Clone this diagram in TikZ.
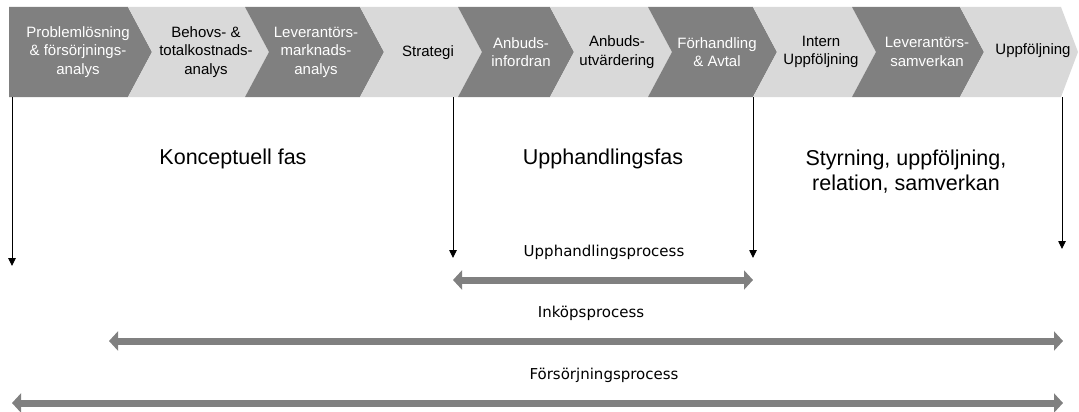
\documentclass[tikz,border=0pt]{standalone}
\usepackage{fontspec}
\setmainfont{Liberation Sans}
\newfontfamily\labelfont{DejaVu Sans}
\usetikzlibrary{arrows.meta}
\definecolor{chevdark}{HTML}{808080}
\definecolor{chevlight}{HTML}{D9D9D9}
\definecolor{barcol}{HTML}{808080}
\begin{document}
\begin{tikzpicture}[x=1pt,y=-1pt,
  stagetext/.style={align=center,inner sep=0pt,font=\fontsize{15}{18.5}\selectfont},
  ondark/.style={stagetext,text=white},
  onlight/.style={stagetext,text=black},
  phasetext/.style={align=center,inner sep=0pt,font=\fontsize{21.5}{25}\selectfont},
  proctext/.style={inner sep=0pt,font=\labelfont\fontsize{15}{17}\selectfont},
  marker/.style={draw=black,line width=0.9pt,-{Triangle[length=8pt,width=7.5pt]}},
  procbar/.style={draw=barcol,line width=7pt,
    {Triangle[length=9pt,width=19pt]}-{Triangle[length=9pt,width=19pt]}}]
\useasboundingbox (0,0) rectangle (1079,412);

% chevron band: top, middle and bottom heights, notch depth
\def\ytop{7}\def\ymid{52}\def\ybot{97}\def\dep{24}

% first stage: straight left edge
\fill[chevdark] (9,\ytop) -- (128,\ytop) -- (128+\dep,\ymid) -- (128,\ybot) -- (9,\ybot) -- cycle;
% remaining stages
\foreach \a/\b/\c in {128/245/chevlight,245/360/chevdark,360/458/chevlight,
  458/550/chevdark,550/648/chevlight,648/753/chevdark,753/852/chevlight,
  852/960/chevdark}{
  \fill[\c] (\a,\ytop) -- (\b,\ytop) -- (\b+\dep,\ymid) -- (\b,\ybot)
    -- (\a,\ybot) -- (\a+\dep,\ymid) -- cycle;
}
\fill[chevlight] (960,\ytop) -- (1061,\ytop) -- (1078,\ymid) -- (1061,\ybot)
  -- (960,\ybot) -- (960+\dep,\ymid) -- cycle;

% stage labels
\node[ondark]  (s1)  at (78,52)   {Problemlösning\\\& försörjnings-\\analys};
\node[onlight] (s2)  at (206,52)  {Behovs- \&\\totalkostnads-\\analys};
\node[ondark]  (s3)  at (316,52)  {Leverantörs-\\marknads-\\analys};
\node[onlight] (s4)  at (428,53)  {Strategi};
\node[ondark]  (s5)  at (521,52)  {Anbuds-\\infordran};
\node[onlight] (s6)  at (617,52)  {Anbuds-\\utvärdering};
\node[ondark]  (s7)  at (717,52)  {Förhandling\\\& Avtal};
\node[onlight] (s8)  at (821,52)  {Intern\\Uppföljning};
\node[ondark]  (s9)  at (927,52)  {Leverantörs-\\samverkan};
\node[onlight] (s10) at (1033,51) {Uppföljning};

% phase labels
\node[phasetext] (p1) at (233,159) {Konceptuell fas};
\node[phasetext] (p2) at (603,159) {Upphandlingsfas};
\node[phasetext] (p3) at (906,172) {Styrning, uppföljning,\\relation, samverkan};

% phase boundary markers
\coordinate (m1a) at (12,\ybot);   \coordinate (m1b) at (12,266);
\coordinate (m2a) at (453,\ybot);  \coordinate (m2b) at (453,258);
\coordinate (m3a) at (753,\ybot);  \coordinate (m3b) at (753,258);
\coordinate (m4a) at (1062,\ybot); \coordinate (m4b) at (1062,249);
\draw[marker] (m1a) -- (m1b);
\draw[marker] (m2a) -- (m2b);
\draw[marker] (m3a) -- (m3b);
\draw[marker] (m4a) -- (m4b);

% process spans
\node[proctext] (l1) at (604,252) {Upphandlingsprocess};
\node[proctext] (l2) at (591,313) {Inköpsprocess};
\node[proctext] (l3) at (604,375) {Försörjningsprocess};
\coordinate (u1) at (453,280);  \coordinate (u2) at (753,280);
\coordinate (i1) at (109,341);  \coordinate (i2) at (1063,341);
\coordinate (f1) at (12,403);   \coordinate (f2) at (1063,403);
\draw[procbar] (u1) -- (u2);
\draw[procbar] (i1) -- (i2);
\draw[procbar] (f1) -- (f2);
\end{tikzpicture}
\end{document}
